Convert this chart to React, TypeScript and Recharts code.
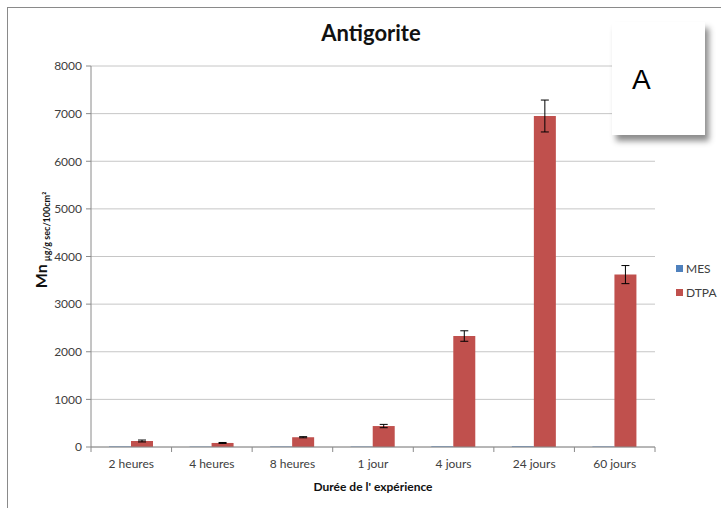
import { BarChart, Bar, XAxis, YAxis, CartesianGrid, ErrorBar } from "recharts"

const categories = ["2 heures", "4 heures", "8 heures", "1 jour", "4 jours", "24 jours", "60 jours"]
const mesValues = [12, 8, 10, 9, 14, 16, 11]
const dtpaValues = [126, 85, 205, 440, 2330, 6950, 3620]
const dtpaErrors = [20, 10, 12, 35, 110, 335, 190]
const yTicks = [0, 1000, 2000, 3000, 4000, 5000, 6000, 7000, 8000]
const xBounds = [0, 1, 2, 3, 4, 5, 6, 7]

const MES_COLOR = "#4f81bd"
const DTPA_COLOR = "#c0504d"
const FONT = "Lato, 'Open Sans', sans-serif"

const PLOT_LEFT = 91
const PLOT_RIGHT = 655
const band = (PLOT_RIGHT - PLOT_LEFT) / categories.length

const data = categories.map((name, i) => ({
  pos: i + 0.5,
  name,
  mes: mesValues[i],
  dtpa: dtpaValues[i],
  dtpaErr: dtpaErrors[i],
}))

function CategoryTick(props: any) {
  const { x, y, payload } = props
  const label = categories[payload.value]
  if (!label) return null
  return (
    <text x={x + band / 2} y={y + 14} textAnchor="middle" fontSize={12} fill="#404040" fontFamily={FONT}>
      {label}
    </text>
  )
}

export default function App() {
  return (
    <div style={{ position: "absolute", left: 0, top: 0, width: 721, height: 508, background: "#fff", fontFamily: FONT }}>
      {/* frame */}
      <div style={{ position: "absolute", left: 7, top: 7, width: 714, height: 501, borderLeft: "1px solid #8a8a8a", borderTop: "1px solid #8a8a8a" }} />

      <BarChart
        width={721}
        height={508}
        data={data}
        margin={{ top: 66, right: 66, left: 0, bottom: 31 }}
        barGap={0}
        barSize={22}
      >
        <CartesianGrid vertical={false} stroke="#c6c6c6" />
        <XAxis
          type="number"
          dataKey="pos"
          domain={[0, 7]}
          ticks={xBounds}
          interval={0}
          height={30}
          tick={<CategoryTick />}
          tickLine={{ stroke: "#8a8a8a" }}
          axisLine={{ stroke: "#8a8a8a" }}
          tickSize={5}
        />
        <YAxis
          domain={[0, 8000]}
          ticks={yTicks}
          interval={0}
          width={91}
          tick={{ fontSize: 12, fill: "#404040", fontFamily: FONT }}
          tickLine={{ stroke: "#8a8a8a" }}
          axisLine={{ stroke: "#8a8a8a" }}
          tickSize={5}
          tickMargin={4}
        />
        <Bar dataKey="mes" name="MES" fill={MES_COLOR} isAnimationActive={false} />
        <Bar dataKey="dtpa" name="DTPA" fill={DTPA_COLOR} isAnimationActive={false}>
          <ErrorBar dataKey="dtpaErr" width={4} stroke="#000" strokeWidth={1} />
        </Bar>
      </BarChart>

      {/* title */}
      <div style={{ position: "absolute", left: 0, width: 742, top: 19, textAlign: "center", fontSize: 22, fontWeight: 700, color: "#111" }}>
        Antigorite
      </div>

      {/* y axis label */}
      <div
        style={{
          position: "absolute",
          left: 40,
          top: 240,
          transform: "translate(-50%, -50%) rotate(-90deg)",
          whiteSpace: "nowrap",
          color: "#111",
        }}
      >
        <span style={{ fontSize: 16, fontWeight: 700 }}>Mn</span>
        <span style={{ fontSize: 9, fontWeight: 700, marginLeft: 3, position: "relative", top: 3 }}>
          µg/g sec/100cm²
        </span>
      </div>

      {/* x axis label */}
      <div style={{ position: "absolute", left: PLOT_LEFT, width: PLOT_RIGHT - PLOT_LEFT, top: 479, textAlign: "center", fontSize: 12, fontWeight: 700, color: "#111" }}>
        Durée de l' expérience
      </div>

      {/* legend */}
      <div style={{ position: "absolute", left: 676, top: 260, fontSize: 12, color: "#404040" }}>
        {[
          { label: "MES", color: MES_COLOR },
          { label: "DTPA", color: DTPA_COLOR },
        ].map((item) => (
          <div key={item.label} style={{ display: "flex", alignItems: "center", height: 16, marginBottom: 8 }}>
            <span style={{ width: 7, height: 7, background: item.color, marginRight: 3 }} />
            {item.label}
          </div>
        ))}
      </div>

      {/* panel letter box */}
      <div
        style={{
          position: "absolute",
          left: 612,
          top: 22,
          width: 93,
          height: 113,
          background: "#fff",
          boxShadow: "4px 6px 6px rgba(0,0,0,0.45)",
        }}
      >
        <div style={{ position: "absolute", left: 20, top: 42, fontSize: 28, fontFamily: "'Liberation Sans', Arial, sans-serif", color: "#000" }}>
          A
        </div>
      </div>
    </div>
  )
}
